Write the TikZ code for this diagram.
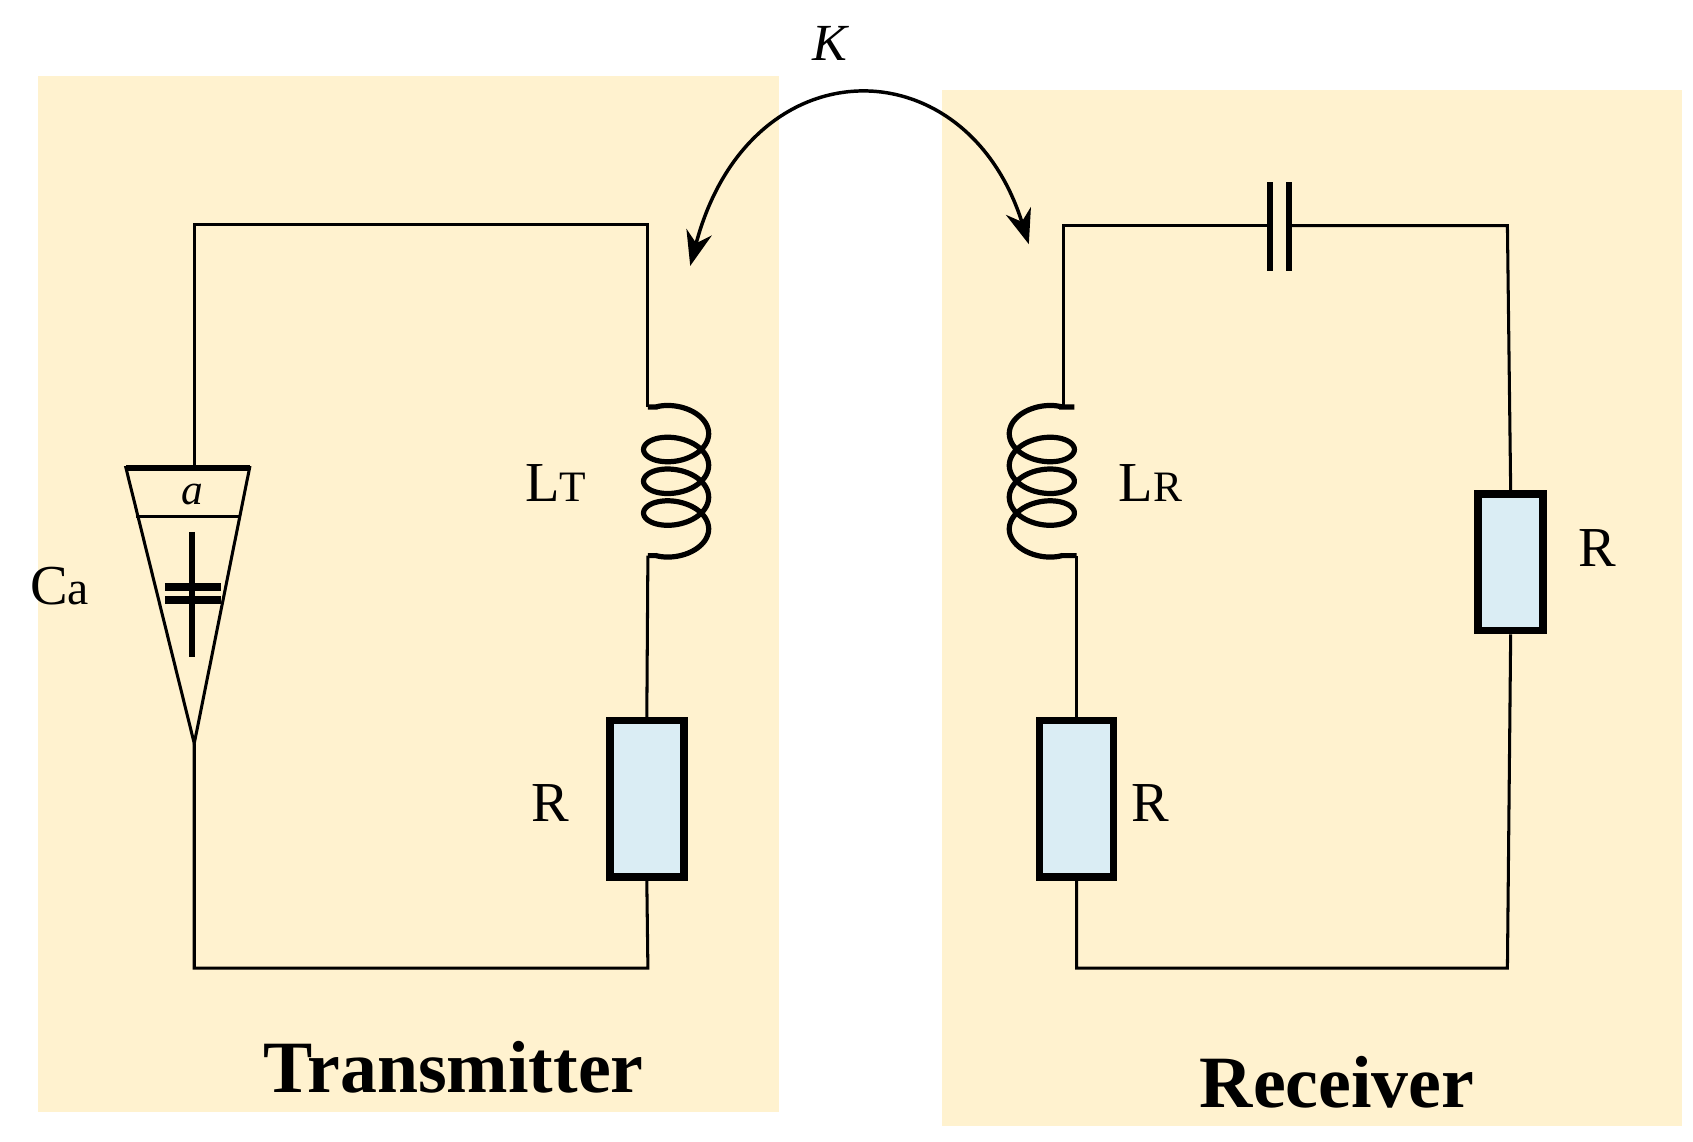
\documentclass[tikz,border=0pt]{standalone}
\usepackage{fontspec}
\setmainfont{Liberation Serif}
\usetikzlibrary{arrows.meta}
\definecolor{panel}{HTML}{FFF2CF}
\definecolor{resfill}{HTML}{DAEDF4}
\tikzset{
  wire/.style={line width=1.4pt},
  coil/.style={line width=2.4pt},
  res/.style={draw,line width=3.5pt,fill=resfill,inner sep=0pt},
  lbl/.style={font=\fontsize{26}{28}\selectfont,inner sep=0pt},
}
\begin{document}
\begin{tikzpicture}[x=0.5pt,y=-0.5pt]
  \useasboundingbox (0,0) rectangle (1560,1052);
  \fill[panel] (35,70) rectangle (718,1025);
  \fill[panel] (868,83) rectangle (1550,1038);

  % transmitter
  \coordinate (ttl) at (179,207);
  \coordinate (ttr) at (597,207);
  \coordinate (tbl) at (179,892);
  \coordinate (tbr) at (597,892);
  \coordinate (lt1) at (597,375);
  \coordinate (lt2) at (597,512);
  \coordinate (atop) at (179,431);
  \coordinate (atip) at (179,685);
  \node (rt) at (596,736) [res,minimum width=34pt,minimum height=72pt] {};
  \draw[wire] (atop) -- (ttl) -- (ttr) -- (lt1);
  \draw[wire] (lt2) -- (rt.north);
  \draw[wire] (rt.south) -- (tbr) -- (tbl) -- (atip);
  \draw[wire] (116,431) -- (230,431) -- (atip) -- cycle;
  \draw[wire] (125,476) -- (221,476);
  \draw[line width=2.6pt] (116,431) -- (230,431);
  \draw[line width=2.4pt] (177,490) -- (177,605);
  \draw[line width=4pt] (152,541) -- (204,541);
  \draw[line width=4pt] (152,553) -- (204,553);
  \node (a) at (177,456) [font=\fontsize{20}{22}\selectfont\itshape,inner sep=0pt] {a};
  \node (ca) at (55,540) [lbl] {C\fontsize{22}{24}\selectfont a};
  \draw[coil] (lt1) -- (606,375) plot[domain=0.9:24.23,samples=300,smooth] ({623-30*cos(\x r)},{375+4.66*(\x-0.9)-18*sin(\x r)+18*sin(0.9 r)}) -- (lt2);
  \node (ltl) at (512,445) [lbl] {L\fontsize{20}{22}\selectfont T};
  \node (rtl) at (507,740) [lbl] {R};
  \node (tx) at (418,983) [font=\fontsize{34}{36}\selectfont\bfseries,inner sep=0pt] {Transmitter};

  % receiver
  \coordinate (rtl0) at (980,208);
  \coordinate (rtr) at (1389,208);
  \coordinate (rbl) at (992,892);
  \coordinate (rbr) at (1389,892);
  \coordinate (lr1) at (990,375);
  \coordinate (lr2) at (992,512);
  \coordinate (cp1) at (1170,208);
  \coordinate (cp2) at (1188,208);
  \node (rr1) at (992,736) [res,minimum width=34pt,minimum height=72pt] {};
  \node (rr2) at (1392,518) [res,minimum width=30pt,minimum height=63pt] {};
  \draw[wire] (980,375) -- (rtl0) -- (cp1);
  \draw[wire] (cp2) -- (rtr) -- (rr2.north);
  \draw[wire] (rr2.south) -- (rbr) -- (rbl) -- (rr1.south);
  \draw[wire] (rr1.north) -- (lr2);
  \draw[line width=2.6pt] (cp1) ++(0,-40) -- ++(0,82);
  \draw[line width=2.6pt] (cp2) ++(0,-40) -- ++(0,82);
  \draw[coil] (lr1) -- (976,375) plot[domain=0.9:24.23,samples=300,smooth] ({960+30*cos(\x r)},{375+4.66*(\x-0.9)-18*sin(\x r)+18*sin(0.9 r)}) -- (lr2);
  \node (lrl) at (1060,445) [lbl] {L\fontsize{20}{22}\selectfont R};
  \node (rr1l) at (1060,740) [lbl] {R};
  \node (rr2l) at (1472,505) [lbl] {R};
  \node (rx) at (1232,997) [font=\fontsize{34}{36}\selectfont\bfseries,inner sep=0pt] {Receiver};

  % coupling
  \coordinate (kl) at (636,245);
  \coordinate (kr) at (948,225);
  \draw[line width=1.6pt,{Stealth[length=16pt,width=12pt]}-{Stealth[length=16pt,width=12pt]}]
    (kl) .. controls (690,40) and (890,40) .. (kr);
  \node (k) at (765,40) [font=\fontsize{24}{26}\selectfont\itshape,inner sep=0pt] {K};
\end{tikzpicture}
\end{document}
